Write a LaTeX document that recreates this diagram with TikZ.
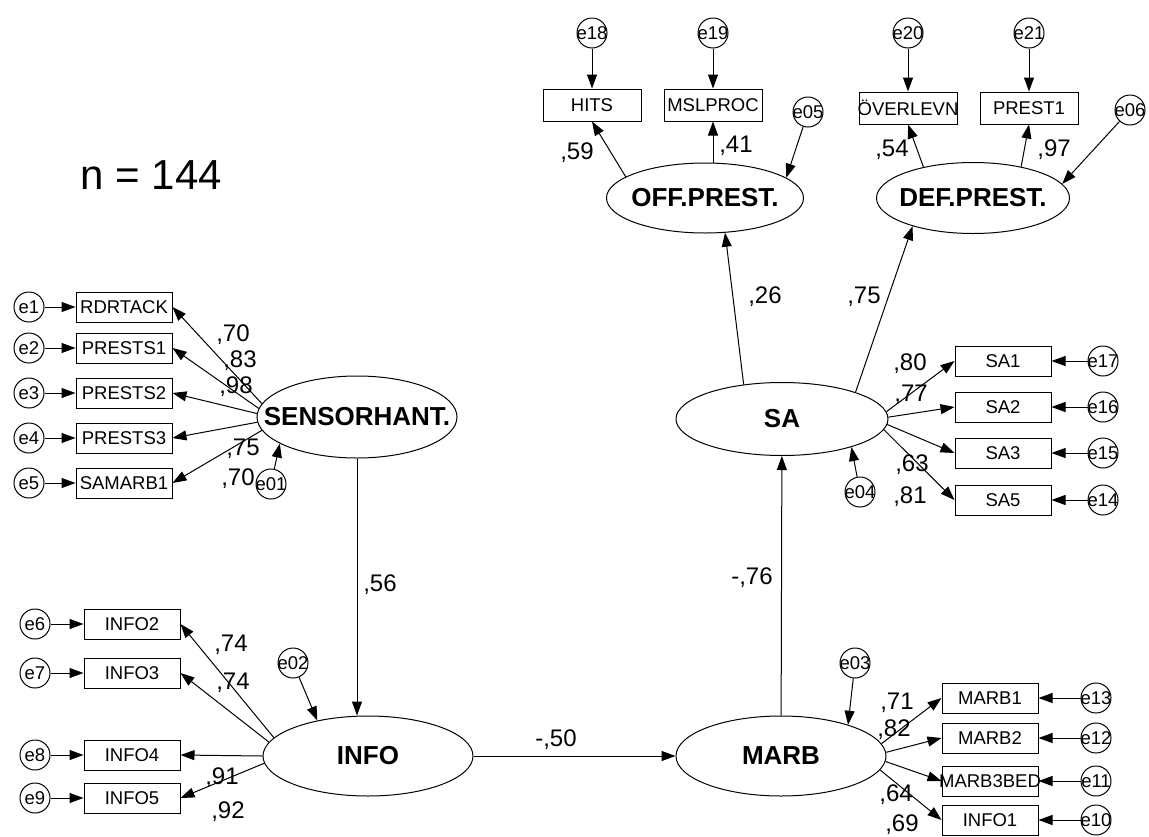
\documentclass[tikz,border=0pt]{standalone}
\usepackage{fontspec}
\setmainfont{Liberation Sans}
\usetikzlibrary{shapes.geometric,arrows.meta}
\tikzset{
  obs/.style={draw, rectangle, minimum width=96pt, minimum height=30pt, inner sep=0pt, font=\fontsize{18.5}{18.5}\selectfont},
  err/.style={draw, circle, minimum size=30pt, inner sep=0pt, font=\fontsize{18.5}{18.5}\selectfont},
  lat/.style={draw, ellipse, inner sep=0pt, font=\fontsize{26}{26}\selectfont\bfseries},
  coef/.style={inner sep=0pt, font=\fontsize{24}{24}\selectfont},
  arr/.style={-{Triangle[length=14pt,width=10pt]}}
}
\newcommand{\lbl}[1]{\makebox[0pt]{#1}}

\begin{document}
\begin{tikzpicture}[x=1pt, y=-1pt, line width=1pt]
  \useasboundingbox (0,0) rectangle (1149,836);
  \node[anchor=base west, inner sep=0pt, font=\fontsize{42}{42}\selectfont] (n) at (80,189) {n = 144};

  % latent variables
  \node[lat, minimum width=200pt, minimum height=82pt] (sens) at (357,417) {\lbl{SENSORHANT.}};
  \node[lat, minimum width=210pt, minimum height=80pt] (info) at (368,756) {\lbl{INFO}};
  \node[lat, minimum width=210pt, minimum height=80pt] (marb) at (781,756) {\lbl{MARB}};
  \node[lat, minimum width=212pt, minimum height=73pt] (sa) at (782,419) {\lbl{SA}};
  \node[lat, minimum width=197pt, minimum height=70pt] (off) at (705,198) {\lbl{OFF.PREST.}};
  \node[lat, minimum width=193pt, minimum height=71pt] (def) at (973,198) {\lbl{DEF.PREST.}};

  % indicators left
  \foreach \n/\t/\y [count=\i] in {rdr/RDRTACK/307, pr1/PRESTS1/348, pr2/PRESTS2/393, pr3/PRESTS3/438, sam/SAMARB1/483} {
    \node[obs] (\n) at (124,\y) {\lbl{\t}};
    \node[err] (e\i) at (29,\y) {\lbl{e\i}};
    \draw[arr] (e\i) -- (\n);
  }
  \foreach \n/\a in {rdr/172, pr1/175, pr2/178, pr3/183, sam/188}
    \draw[arr] (sens.\a) -- (\n.east);

  \foreach \n/\t/\y [count=\i from 6] in {in2/INFO2/624, in3/INFO3/673, in4/INFO4/755, in5/INFO5/798} {
    \node[obs] (\n) at (132,\y) {\lbl{\t}};
    \node[err] (e\i) at (35,\y) {\lbl{e\i}};
    \draw[arr] (e\i) -- (\n);
  }
  \foreach \n/\a in {in2/169, in3/172, in4/180, in5/184}
    \draw[arr] (info.\a) -- (\n.east);

  % indicators right
  \foreach \n/\t/\y/\e/\a in {sa1/SA1/361/17/4, sa2/SA2/407/16/1, sa3/SA3/453/15/357, sa5/SA5/500/14/354} {
    \node[obs] (\n) at (1003,\y) {\lbl{\t}};
    \node[err] (e\e) at (1103,\y) {\lbl{e\e}};
    \draw[arr] (e\e) -- (\n);
    \draw[arr] (sa.\a) -- (\n.west);
  }
  \foreach \n/\t/\y/\e/\a in {mb1/MARB1/698/13/7, mb2/MARB2/738/12/2, mb3/MARB3BED/781/11/357, if1/INFO1/820/10/352} {
    \node[obs] (\n) at (990,\y) {\lbl{\t}};
    \node[err] (e\e) at (1096,\y) {\lbl{e\e}};
    \draw[arr] (e\e) -- (\n);
    \draw[arr] (marb.\a) -- (\n.west);
  }

  % indicators top
  \foreach \n/\t/\x/\y/\e in {hits/HITS/592/105/18, mslp/MSLPROC/713/105/19, ov/ÖVERLEVN/908/108/20, pr/PREST1/1029/108/21} {
    \node[obs, minimum width=98pt, minimum height=32pt] (\n) at (\x,\y) {\lbl{\t}};
    \node[err] (e\e) at (\x,33) {\lbl{e\e}};
    \draw[arr] (e\e) -- (\n);
  }
  \draw[arr] (off.165) -- (hits.south);
  \draw[arr] (off.north -| mslp) -- (mslp.south);
  \draw[arr] (def.148) -- (ov.south);
  \draw[arr] (def.33) -- (pr.south);

  % structural paths
  \draw[arr] (sens.south) -- (sens.south |- info.north);
  \draw[arr] (info) -- (marb);
  \draw[arr] (marb) -- (sa);
  \draw[arr] (sa.138) -- (off.300);
  \draw[arr] (sa.20) -- (def.205);

  % disturbances
  \foreach \e/\x/\y/\t in {e01/271/484/sens.199, e02/293/663/info.145, e03/855/663/marb.25,
                           e04/860/492/sa.338, e05/808/112/off.14, e06/1130/110/def.9} {
    \node[err] (\e) at (\x,\y) {\lbl{\e}};
    \draw[arr] (\e) -- (\t);
  }

  % estimates
  \foreach \t/\x/\y [count=\i] in {{,70}/233/335, {,83}/240/361, {,98}/236/387, {,75}/243/449, {,70}/238/479,
      {,74}/231/645, {,74}/233/683, {,91}/222/778, {,92}/228/812,
      {,56}/380/585, {-,50}/556/740, {-,76}/752/578, {,26}/765/297, {,75}/864/297,
      {,59}/577/153, {,41}/736/146, {,54}/892/150, {,97}/1054/150,
      {,80}/910/364, {,77}/911/395, {,63}/912/465, {,81}/910/497,
      {,71}/897/703, {,82}/894/730, {,64}/896/795, {,69}/902/825}
    \node[coef] (c\i) at (\x,\y) {\t};
\end{tikzpicture}
\end{document}
